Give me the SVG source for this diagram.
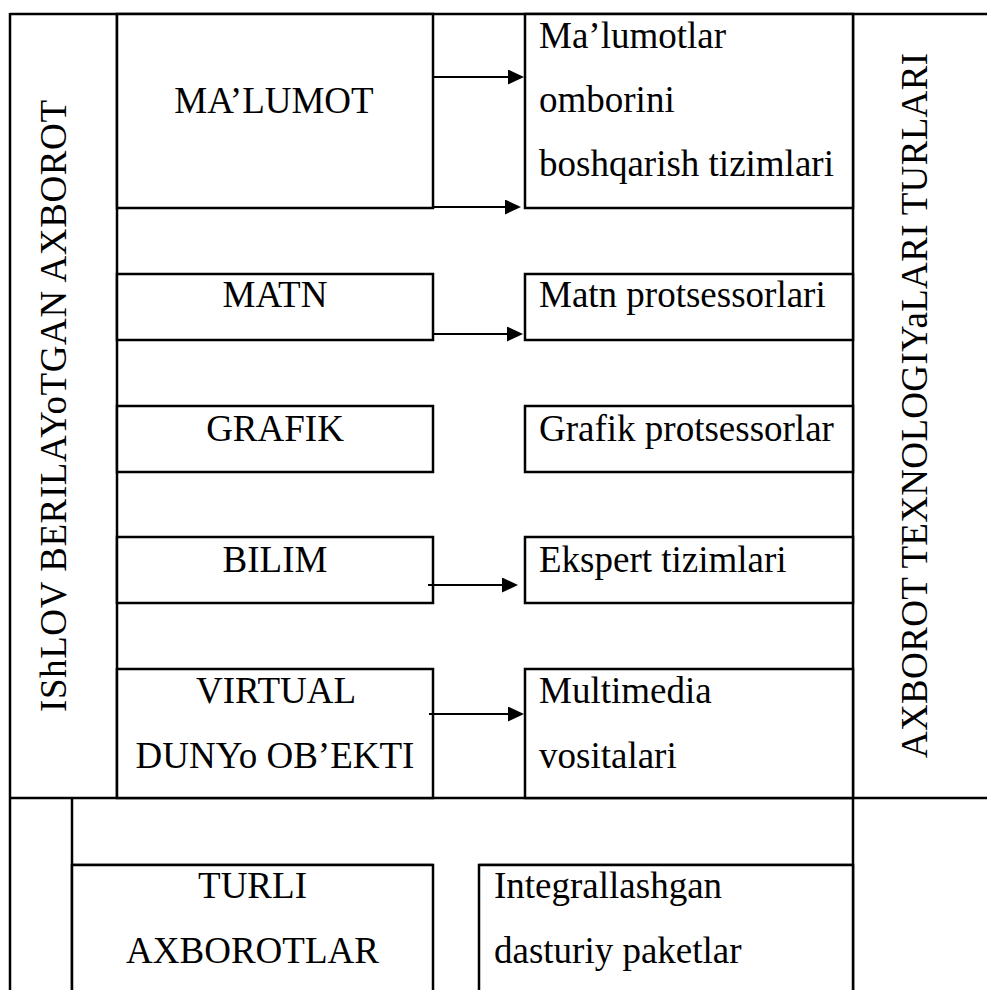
<svg xmlns="http://www.w3.org/2000/svg" width="987" height="990" viewBox="0 0 987 990">
  <style>
    .frame { fill: none; stroke: #000; stroke-width: 2.5; }
    .box { fill: #fff; stroke: #000; stroke-width: 2.5; }
    .lbl { font-family: "Liberation Serif", "Times New Roman", serif; font-size: 37px; fill: #000; }
    .mid { text-anchor: middle; }
    .conn { fill: none; stroke: #000; stroke-width: 2.2; }
  </style>
  <defs>
    <marker id="arrow" markerUnits="userSpaceOnUse" markerWidth="16" markerHeight="15" refX="8" refY="7.5" orient="auto">
      <path d="M0,0 L16,7.5 L0,15 Z" fill="#000"/>
    </marker>
  </defs>

  <rect width="987" height="990" fill="#fff"/>

  <!-- outer table frame -->
  <g id="frame">
    <line class="frame" x1="10" y1="14" x2="987" y2="14"/>
    <line class="frame" x1="10" y1="13" x2="10" y2="990"/>
    <line class="frame" x1="117" y1="14" x2="117" y2="798"/>
    <line class="frame" x1="853" y1="14" x2="853" y2="990"/>
    <line class="frame" x1="10" y1="798" x2="987" y2="798"/>
    <line class="frame" x1="72" y1="798" x2="72" y2="990"/>
    <line class="frame" x1="72" y1="865" x2="433" y2="865"/>
    <line class="frame" x1="479" y1="865" x2="853" y2="865"/>
  </g>

  <!-- side headings -->
  <g id="processed-info">
    <text class="lbl mid" transform="translate(66,406) rotate(-90)" textLength="612">IShLOV BERILAYoTGAN AXBOROT</text>
  </g>
  <g id="it-types">
    <text class="lbl mid" transform="translate(927,405.5) rotate(-90)" textLength="705">AXBOROT TEXNOLOGIYaLARI TURLARI</text>
  </g>

  <!-- information kinds -->
  <g id="malumot">
    <rect class="box" x="117" y="14" width="316" height="194"/>
    <text class="lbl mid" x="274" y="113">MA’LUMOT</text>
  </g>
  <g id="matn">
    <rect class="box" x="117" y="274" width="316" height="66"/>
    <text class="lbl mid" x="275" y="307">MATN</text>
  </g>
  <g id="grafik">
    <rect class="box" x="117" y="406" width="316" height="66"/>
    <text class="lbl mid" x="275" y="441">GRAFIK</text>
  </g>
  <g id="bilim">
    <rect class="box" x="117" y="537" width="316" height="66"/>
    <text class="lbl mid" x="275" y="572">BILIM</text>
  </g>
  <g id="virtual">
    <rect class="box" x="117" y="669" width="316" height="129"/>
    <text class="lbl mid" x="276" y="703">VIRTUAL</text>
    <text class="lbl mid" x="275" y="768">DUNYo OB’EKTI</text>
  </g>
  <g id="turli">
    <rect class="box" x="72" y="865" width="361" height="130"/>
    <text class="lbl mid" x="252.5" y="898">TURLI</text>
    <text class="lbl mid" x="252.5" y="963">AXBOROTLAR</text>
  </g>

  <!-- technology kinds -->
  <g id="mbbt">
    <rect class="box" x="525" y="14" width="328" height="194"/>
    <text class="lbl" x="539" y="48">Ma’lumotlar</text>
    <text class="lbl" x="539" y="112">omborini</text>
    <text class="lbl" x="539" y="176">boshqarish tizimlari</text>
  </g>
  <g id="matn-protsessorlari">
    <rect class="box" x="525" y="274" width="328" height="66"/>
    <text class="lbl" x="539" y="307">Matn protsessorlari</text>
  </g>
  <g id="grafik-protsessorlar">
    <rect class="box" x="525" y="406" width="328" height="66"/>
    <text class="lbl" x="539" y="441">Grafik protsessorlar</text>
  </g>
  <g id="ekspert">
    <rect class="box" x="525" y="537" width="328" height="66"/>
    <text class="lbl" x="539" y="572">Ekspert tizimlari</text>
  </g>
  <g id="multimedia">
    <rect class="box" x="525" y="669" width="328" height="129"/>
    <text class="lbl" x="539" y="703">Multimedia</text>
    <text class="lbl" x="539" y="768">vositalari</text>
  </g>
  <g id="integr">
    <rect class="box" x="479" y="865" width="374" height="130"/>
    <text class="lbl" x="494" y="898">Integrallashgan</text>
    <text class="lbl" x="494" y="963">dasturiy paketlar</text>
  </g>

  <!-- connectors -->
  <g id="connectors">
    <line class="conn" x1="433" y1="77" x2="516" y2="77" marker-end="url(#arrow)"/>
    <line class="conn" x1="433" y1="207" x2="513" y2="207" marker-end="url(#arrow)"/>
    <line class="conn" x1="433" y1="334" x2="515" y2="334" marker-end="url(#arrow)"/>
    <line class="conn" x1="428" y1="585" x2="510" y2="585" marker-end="url(#arrow)"/>
    <line class="conn" x1="429" y1="714" x2="516" y2="714" marker-end="url(#arrow)"/>
  </g>
</svg>
